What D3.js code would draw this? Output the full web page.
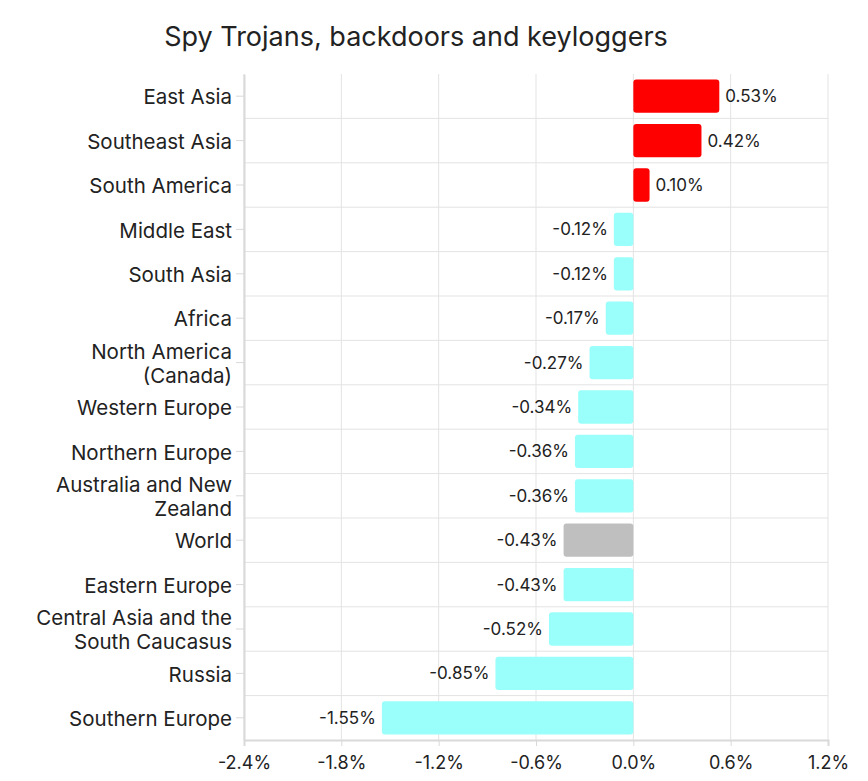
<!DOCTYPE html>
<html>
<head>
<meta charset="UTF-8">
<title>Spy Trojans, backdoors and keyloggers</title>
<style>
  body { margin: 0; background: #fff; }
  svg text { font-family: "Inter", "Lato", sans-serif; fill: #222; }
</style>
</head>
<body>
<svg id="chart" width="868" height="781"></svg>
<script src="https://cdnjs.cloudflare.com/ajax/libs/d3/7.8.5/d3.min.js"></script>
<script>
// data
const regions = [
  'East Asia', 'Southeast Asia', 'South America', 'Middle East', 'South Asia',
  'Africa', 'North America (Canada)', 'Western Europe', 'Northern Europe',
  'Australia and New Zealand', 'World', 'Eastern Europe',
  'Central Asia and the South Caucasus', 'Russia', 'Southern Europe'
];
const changes = [0.53, 0.42, 0.10, -0.12, -0.12, -0.17, -0.27, -0.34, -0.36,
  -0.36, -0.43, -0.43, -0.52, -0.85, -1.55];
const ticks = [-2.4, -1.8, -1.2, -0.6, 0.0, 0.6, 1.2];

// wrapped label lines
const labelLines = {
  'North America (Canada)': ['North America', '(Canada)'],
  'Australia and New Zealand': ['Australia and New', 'Zealand'],
  'Central Asia and the South Caucasus': ['Central Asia and the', 'South Caucasus']
};

const svg = d3.select('#chart');
const margin = { top: 74, right: 40, bottom: 41, left: 244 };
const width = 868 - margin.left - margin.right;
const height = 781 - margin.top - margin.bottom;

const x = d3.scaleLinear().domain([-2.4, 1.2]).range([0, width]);
const y = d3.scaleBand().domain(regions).range([0, height]).paddingInner(0.25).paddingOuter(0.125);

const g = svg.append('g').attr('transform', `translate(${margin.left},${margin.top})`);

// vertical gridlines
g.selectAll('.vgrid').data(ticks).enter().append('line')
  .attr('x1', d => x(d)).attr('x2', d => x(d))
  .attr('y1', 0).attr('y2', height)
  .attr('stroke', '#e3e3e3').attr('stroke-width', 1);

// horizontal separators between rows
g.selectAll('.hgrid').data(d3.range(1, regions.length)).enter().append('line')
  .attr('x1', 0).attr('x2', width)
  .attr('y1', d => d * height / regions.length).attr('y2', d => d * height / regions.length)
  .attr('stroke', '#e3e3e3').attr('stroke-width', 1);

// bars
const data = regions.map((r, i) => ({ region: r, value: changes[i] }));
function barColor(d) {
  if (d.region === 'World') return '#bfbfbf';
  return d.value >= 0 ? '#ff0000' : '#9afffa';
}
g.selectAll('.bar').data(data).enter().append('rect')
  .attr('x', d => x(Math.min(0, d.value)))
  .attr('width', d => Math.abs(x(d.value) - x(0)))
  .attr('y', d => y(d.region))
  .attr('height', y.bandwidth())
  .attr('rx', 3)
  .attr('fill', barColor);

// value labels
g.selectAll('.val').data(data).enter().append('text')
  .attr('x', d => d.value >= 0 ? x(d.value) + 6 : x(d.value) - 6)
  .attr('y', d => y(d.region) + y.bandwidth() / 2)
  .attr('dy', '0.35em')
  .attr('text-anchor', d => d.value >= 0 ? 'start' : 'end')
  .style('font-size', '17px')
  .text(d => d.value.toFixed(2) + '%');

// axes
const xAxis = g.append('g').attr('transform', `translate(0,${height})`)
  .call(d3.axisBottom(x).tickValues(ticks).tickSize(6).tickFormat(d => d.toFixed(1) + '%'));
xAxis.select('.domain').attr('stroke', '#d9d9d9').attr('stroke-width', 2);
xAxis.selectAll('.tick line').attr('stroke', '#d9d9d9');
xAxis.selectAll('.tick text').style('font-size', '18px').attr('dy', '1.1em').attr('fill', '#222');

const yAxis = g.append('g')
  .call(d3.axisLeft(y).tickSize(8).tickSizeOuter(0).tickPadding(4).tickFormat(''));
yAxis.select('.domain').attr('stroke', '#d9d9d9').attr('stroke-width', 2);
yAxis.selectAll('.tick line').attr('stroke', '#d9d9d9');

yAxis.selectAll('.tick').each(function (d) {
  const lines = labelLines[d] || [d];
  const t = d3.select(this).append('text')
    .attr('x', -12)
    .attr('text-anchor', 'end')
    .attr('fill', '#222')
    .style('font-size', '20.5px');
  lines.forEach((ln, i) => {
    t.append('tspan')
      .attr('x', -12)
      .attr('y', (i - (lines.length - 1) / 2) * 24 + 1)
      .attr('dy', '0.35em')
      .text(ln);
  });
});

// title
svg.append('text')
  .attr('x', 416).attr('y', 46)
  .attr('text-anchor', 'middle')
  .style('font-size', '27px')
  .attr('fill', '#333')
  .text('Spy Trojans, backdoors and keyloggers');
</script>
</body>
</html>
